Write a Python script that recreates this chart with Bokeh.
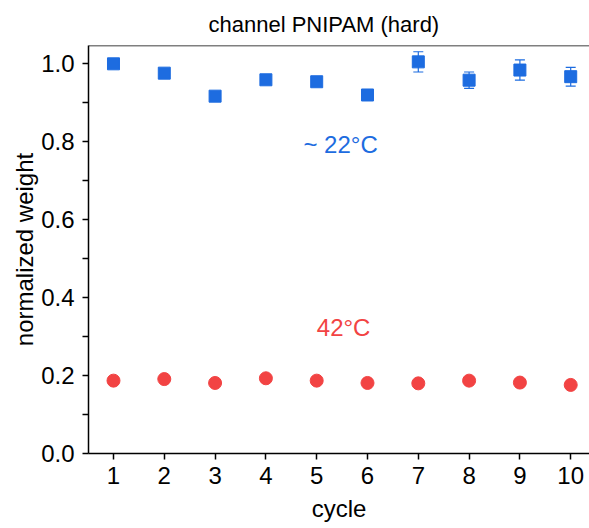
from bokeh.plotting import figure
from bokeh.models import (ColumnDataSource, Whisker, TeeHead, FixedTicker, NumeralTickFormatter,
                          Label, Span, Range1d, Title)
from bokeh.embed import file_html
from bokeh.resources import INLINE

# ---- data ----
cycles = [1, 2, 3, 4, 5, 6, 7, 8, 9, 10]
weight_22C = [1.000, 0.976, 0.917, 0.959, 0.954, 0.920, 1.005, 0.958, 0.984, 0.967]
err_22C = [0.004, 0.004, 0.004, 0.004, 0.004, 0.004, 0.026, 0.021, 0.026, 0.024]
weight_42C = [0.187, 0.191, 0.181, 0.193, 0.187, 0.181, 0.180, 0.187, 0.182, 0.176]
err_42C = [0.003, 0.003, 0.003, 0.003, 0.003, 0.003, 0.003, 0.003, 0.003, 0.003]
y_ticks = [0.0, 0.2, 0.4, 0.6, 0.8, 1.0]
y_minor = [0.1, 0.3, 0.5, 0.7, 0.9]

BLUE = "#1D6CE0"
RED = "#F24343"
FONT = "Liberation Sans"

up22 = [w + e for w, e in zip(weight_22C, err_22C)]
lo22 = [w - e for w, e in zip(weight_22C, err_22C)]
up42 = [w + e for w, e in zip(weight_42C, err_42C)]
lo42 = [w - e for w, e in zip(weight_42C, err_42C)]

src22 = ColumnDataSource(dict(x=cycles, y=weight_22C, upper=up22, lower=lo22))
src42 = ColumnDataSource(dict(x=cycles, y=weight_42C, upper=up42, lower=lo42))

p = figure(width=589, height=528, output_backend="svg", toolbar_location=None,
           x_range=Range1d(0.508, 10.37), y_range=Range1d(0.0, 1.047),
           min_border_left=88, min_border_right=0, min_border_top=45, min_border_bottom=75)

p.add_layout(Title(text="channel PNIPAM (hard)", align="left", offset=120,
                   text_font=FONT, text_font_size="22px", text_font_style="normal",
                   text_color="black", standoff=18), "above")

p.grid.visible = False
p.outline_line_color = None
p.background_fill_color = "white"
p.border_fill_color = "white"

# top frame line
p.add_layout(Span(location=1.047, dimension="width", line_color="black", line_width=1.5))

# error bars
for src, col in ((src22, BLUE), (src42, RED)):
    w = Whisker(source=src, base="x", upper="upper", lower="lower",
                line_color=col, line_width=1.2,
                upper_head=TeeHead(size=10, line_color=col, line_width=1.2),
                lower_head=TeeHead(size=10, line_color=col, line_width=1.2))
    p.add_layout(w)

p.scatter("x", "y", source=src22, marker="square", size=12, fill_color=BLUE, line_color=BLUE)
p.scatter("x", "y", source=src42, marker="circle", size=13, fill_color=RED, line_color=RED)

p.add_layout(Label(x=5.47, y=0.792, text="~ 22°C", text_color=BLUE, text_font=FONT,
                   text_font_size="24px", text_align="center", text_baseline="middle"))
p.add_layout(Label(x=5.53, y=0.323, text="42°C", text_color=RED, text_font=FONT,
                   text_font_size="24px", text_align="center", text_baseline="middle"))

# axes
xa = p.xaxis[0]
xa.ticker = FixedTicker(ticks=cycles)
xa.axis_label = "cycle"
ya = p.yaxis[0]
ya.ticker = FixedTicker(ticks=y_ticks, minor_ticks=y_minor)
ya.formatter = NumeralTickFormatter(format="0.0")
ya.axis_label = "normalized weight"

for ax in (xa, ya):
    ax.axis_line_color = "black"
    ax.axis_line_width = 1.5
    ax.major_tick_line_color = "black"
    ax.major_tick_line_width = 1.5
    ax.major_tick_in = 0
    ax.major_tick_out = 6
    ax.minor_tick_line_color = "black"
    ax.minor_tick_line_width = 1.5
    ax.minor_tick_in = 0
    ax.minor_tick_out = 6
    ax.major_label_text_font = FONT
    ax.major_label_text_font_size = "24px"
    ax.major_label_text_color = "black"
    ax.axis_label_text_font = FONT
    ax.axis_label_text_font_size = "24px"
    ax.axis_label_text_font_style = "normal"
    ax.axis_label_text_color = "black"

xa.minor_tick_line_color = None
xa.major_label_standoff = 7
xa.axis_label_standoff = 8
ya.major_label_standoff = 8
ya.axis_label_standoff = 0

open("out.html", "w").write(file_html(p, INLINE))
